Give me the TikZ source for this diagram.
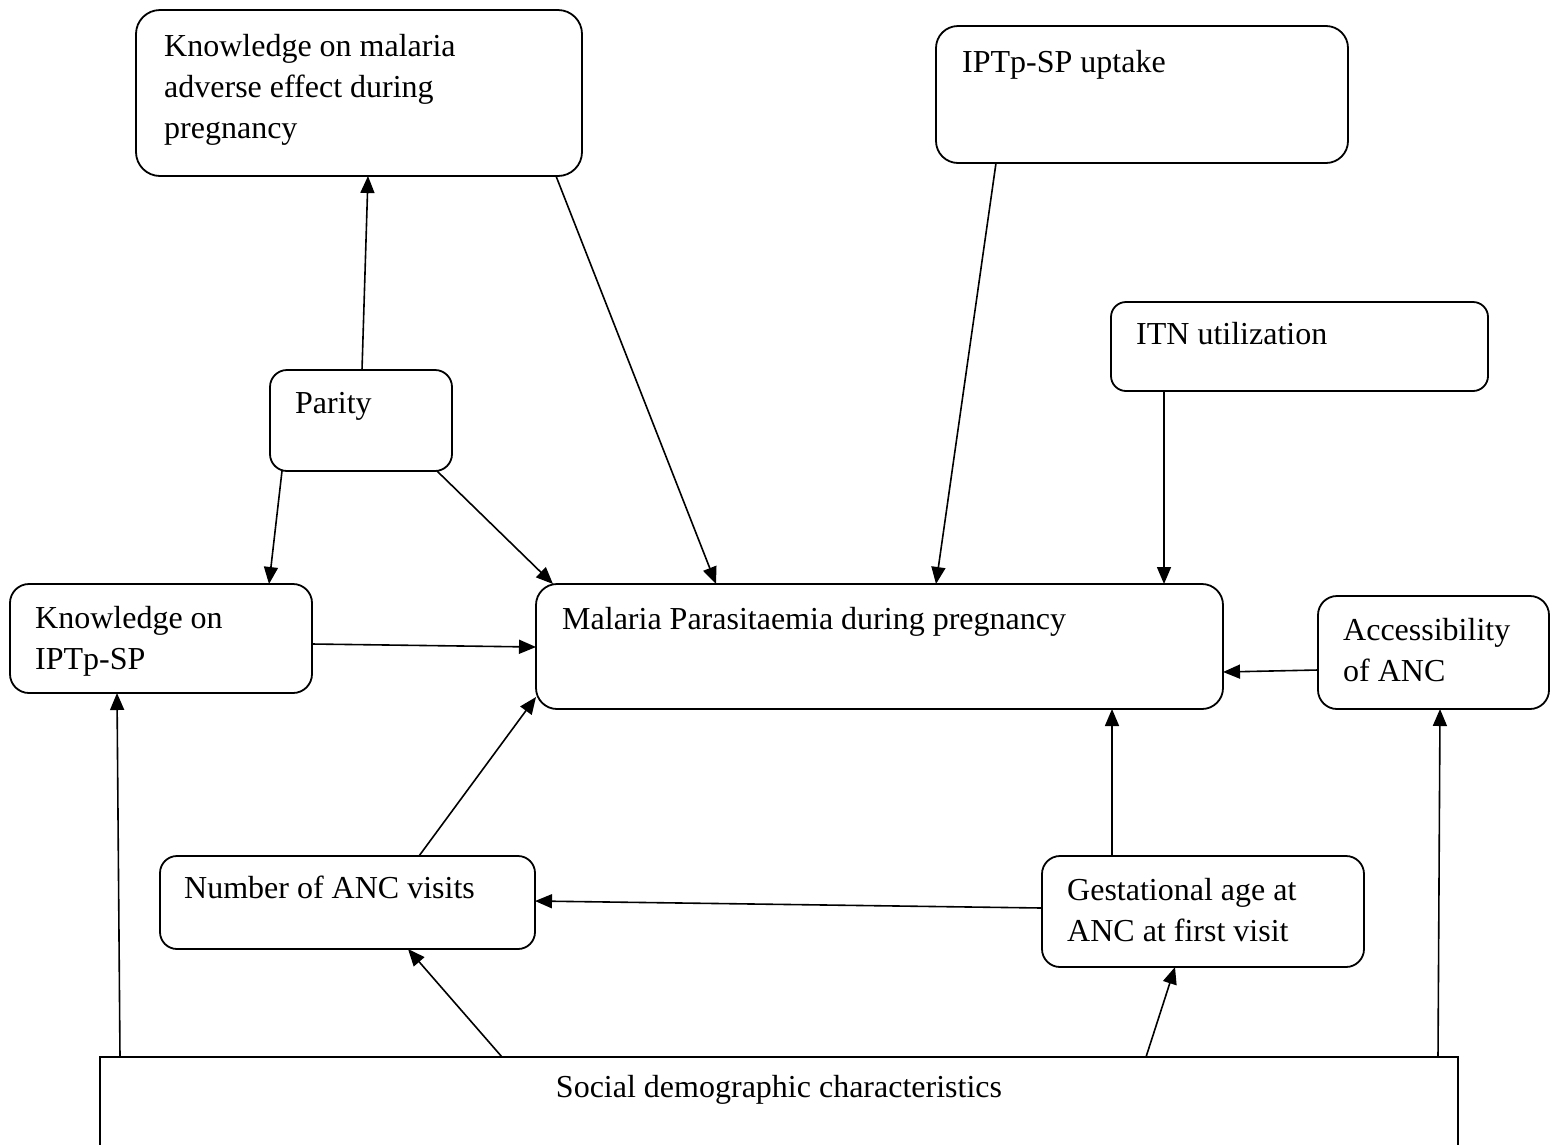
\documentclass[tikz,border=0pt]{standalone}
\usepackage{fontspec}
\setmainfont{Liberation Serif}
\usetikzlibrary{calc,arrows.meta}
\begin{document}
\begin{tikzpicture}[x=1pt,y=-1pt,
  box/.style={draw, line width=1.8pt, anchor=north west, inner sep=0pt, outer sep=0pt},
  lbl/.style={anchor=north west, inner sep=0pt, align=left, font=\fontsize{32}{41}\selectfont},
  arr/.style={line width=1.6pt, -{Triangle[length=17pt,width=14pt]}}]
\clip (0,0) rectangle (1560,1144);
\fill[white] (0,0) rectangle (1560,1144);
% boxes
\node[box, rounded corners=24pt, minimum width=446pt, minimum height=166pt] (kmal) at (136,10) {};
\node[box, rounded corners=22pt, minimum width=412pt, minimum height=137pt] (iptp) at (936,26) {};
\node[box, rounded corners=15pt, minimum width=377pt, minimum height=89pt] (itn) at (1111,302) {};
\node[box, rounded corners=17pt, minimum width=182pt, minimum height=101pt] (parity) at (270,370) {};
\node[box, rounded corners=19pt, minimum width=302pt, minimum height=109pt] (kiptp) at (10,584) {};
\node[box, rounded corners=21pt, minimum width=687pt, minimum height=125pt] (mal) at (536,584) {};
\node[box, rounded corners=19pt, minimum width=231pt, minimum height=113pt] (acc) at (1318,596) {};
\node[box, rounded corners=17pt, minimum width=375pt, minimum height=93pt] (num) at (160,856) {};
\node[box, rounded corners=18pt, minimum width=322pt, minimum height=111pt] (gest) at (1042,856) {};
\node[box, minimum width=1358pt, minimum height=150pt] (soc) at (100,1057) {};
% labels
\node[lbl] (kmalt) at (164,27.3) {\strut Knowledge on malaria\\adverse effect during\\pregnancy};
\node[lbl] (iptpt) at (962,43.3) {\strut IPTp-SP uptake};
\node[lbl] (itnt) at (1136,315.3) {\strut ITN utilization};
\node[lbl] (parityt) at (295,384.3) {\strut Parity};
\node[lbl] (kiptpt) at (35,599.3) {\strut Knowledge on\\IPTp-SP};
\node[lbl] (malt) at (562,600.3) {\strut Malaria Parasitaemia during pregnancy};
\node[lbl] (acct) at (1343,611.3) {\strut Accessibility\\of ANC};
\node[lbl] (numt) at (184,869.3) {\strut Number of ANC visits};
\node[lbl] (gestt) at (1067,871.3) {\strut Gestational age at\\ANC at first visit};
\node[anchor=base, inner sep=0pt, font=\fontsize{32}{41}\selectfont] (soct) at (779,1097) {Social demographic characteristics};
% connectors
\draw[arr] ($(parity.north west)+(92,0)$) -- ($(kmal.south west)+(232,0)$);
\draw[arr] ($(kmal.south west)+(420,0)$) -- ($(mal.north west)+(180,0)$);
\draw[arr] ($(iptp.south west)+(60,0)$) -- ($(mal.north west)+(400,0)$);
\draw[arr] ($(itn.south west)+(53,0)$) -- ($(mal.north west)+(628,0)$);
\draw[arr] ($(parity.south west)+(12,0)$) -- ($(kiptp.north west)+(259,0)$);
\draw[arr] ($(parity.south west)+(167,0)$) -- ($(mal.north west)+(17,0)$);
\draw[arr] ($(kiptp.north east)+(0,60)$) -- ($(mal.north west)+(0,63)$);
\draw[arr] ($(acc.north west)+(0,74)$) -- ($(mal.north east)+(0,88)$);
\draw[arr] ($(num.north west)+(259,0)$) -- ($(mal.south west)+(0,-12)$);
\draw[arr] ($(gest.north west)+(70,0)$) -- ($(mal.south west)+(576,0)$);
\draw[arr] ($(gest.north west)+(0,52)$) -- ($(num.north east)+(0,45)$);
\draw[arr] ($(soc.north west)+(20,0)$) -- ($(kiptp.south west)+(107,0)$);
\draw[arr] ($(soc.north west)+(402,0)$) -- ($(num.south west)+(248,0)$);
\draw[arr] ($(soc.north west)+(1046,0)$) -- ($(gest.south west)+(133,0)$);
\draw[arr] ($(soc.north west)+(1338,0)$) -- ($(acc.south west)+(122,0)$);
\end{tikzpicture}
\end{document}
